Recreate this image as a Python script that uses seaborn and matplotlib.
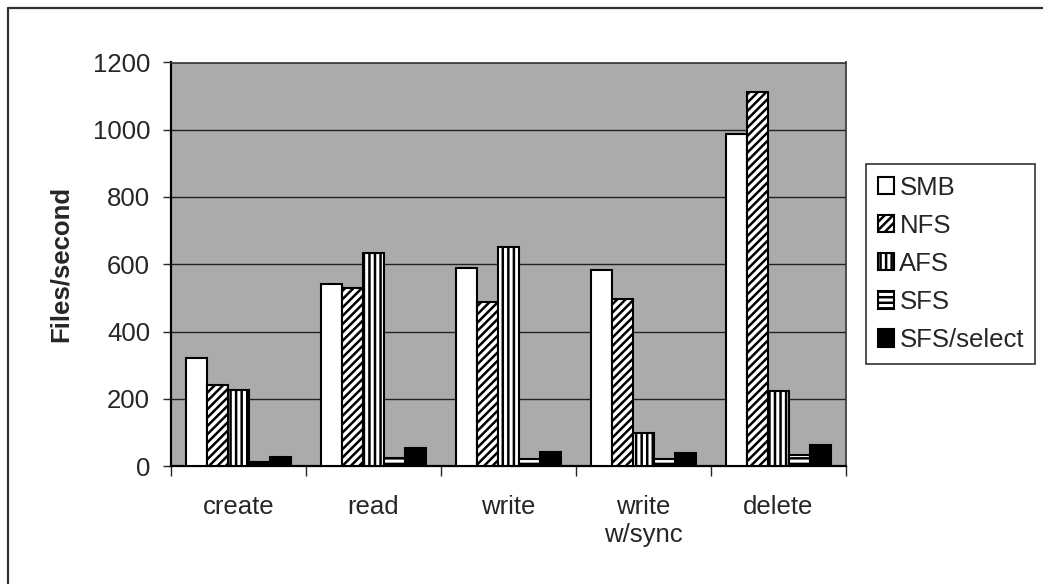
import matplotlib
matplotlib.use("Agg")
import matplotlib.pyplot as plt
import matplotlib.patches as mpatches
from matplotlib.lines import Line2D
import seaborn as sns
import pandas as pd
import numpy as np

operations = ["create", "read", "write", "write\nw/sync", "delete"]
systems = ["SMB", "NFS", "AFS", "SFS", "SFS/select"]
smb = [320, 540, 588, 583, 987]
nfs = [240, 530, 487, 497, 1111]
afs = [225, 632, 652, 98, 223]
sfs = [12, 24, 22, 22, 32]
sfs_select = [27, 53, 42, 40, 62]
yticks = [0, 200, 400, 600, 800, 1000, 1200]

series = {"SMB": smb, "NFS": nfs, "AFS": afs, "SFS": sfs, "SFS/select": sfs_select}
rows = []
for s in systems:
    for op, v in zip(operations, series[s]):
        rows.append({"op": op, "system": s, "value": v})
df = pd.DataFrame(rows)

sns.set_style("white")
plt.rcParams["font.family"] = ["Liberation Sans", "DejaVu Sans"]
plt.rcParams["hatch.linewidth"] = 1.8
plt.rcParams["xtick.top"] = False
plt.rcParams["ytick.right"] = False

fills = {"SMB": "white", "NFS": "white", "AFS": "white", "SFS": "white", "SFS/select": "black"}
hatches = {"SMB": "", "NFS": "////", "AFS": "|||", "SFS": "---", "SFS/select": ""}

fig = plt.figure(figsize=(10.43, 5.84), dpi=100)
ax = fig.add_axes([171 / 1043, 1 - 466 / 584, (846 - 171) / 1043, (466 - 62.5) / 584])
ax.set_facecolor("#ababab")

sns.barplot(data=df, x="op", y="value", hue="system", hue_order=systems,
            order=operations, palette=fills, edgecolor="black", linewidth=1.5,
            width=0.78, legend=False, ax=ax, zorder=3)

for cont, s in zip(ax.containers, systems):
    for bar in cont:
        bar.set_hatch(hatches[s])
        bar.set_edgecolor("black")
        bar.set_zorder(3)

ax.set_ylim(0, 1200)
ax.set_yticks(yticks)
ax.set_xlim(-0.5, len(operations) - 0.5)
ax.yaxis.grid(True, color="#222222", linewidth=1.0, zorder=0)
ax.set_axisbelow(True)

ax.set_xlabel("")
ax.set_ylabel("Files/second", fontsize=18.5, fontweight="bold", labelpad=14)
ax.set_xticks(np.arange(-0.5, len(operations), 1.0), minor=True)
ax.tick_params(axis="y", which="both", labelsize=18.5, length=6, width=1, pad=9,
               left=True, right=False, direction="out")
ax.tick_params(axis="x", which="major", labelsize=18.5, length=0, pad=21)
ax.tick_params(axis="x", which="minor", length=7, width=1, bottom=True, direction="out")
ax.tick_params(which="both", top=False, right=False)

for sp in ax.spines.values():
    sp.set_visible(True)
    sp.set_color("#333333")
    sp.set_linewidth(1.2)
ax.spines["left"].set_color("black")
ax.spines["bottom"].set_color("black")
ax.spines["left"].set_linewidth(1.6)
ax.spines["bottom"].set_linewidth(1.6)

handles = [mpatches.Patch(facecolor=fills[s], edgecolor="black", hatch=hatches[s], linewidth=1.5)
           for s in systems]
leg = fig.legend(handles, systems, loc="upper left",
                 bbox_to_anchor=(866 / 1043, 1 - 164 / 584), bbox_transform=fig.transFigure,
                 fontsize=18.5, frameon=True, fancybox=False, edgecolor="black",
                 handlelength=0.65, handleheight=0.65, handletextpad=0.2,
                 labelspacing=0.55, borderpad=0.45, borderaxespad=0)
leg.get_frame().set_linewidth(1.2)

fig.add_artist(Line2D([8 / 1043, 1.0], [1 - 8 / 584, 1 - 8 / 584], transform=fig.transFigure,
                      color="#333333", linewidth=1.6))
fig.add_artist(Line2D([8 / 1043, 8 / 1043], [0, 1 - 8 / 584], transform=fig.transFigure,
                      color="#333333", linewidth=1.6))

fig.savefig("out.png", dpi=100, facecolor="white")
